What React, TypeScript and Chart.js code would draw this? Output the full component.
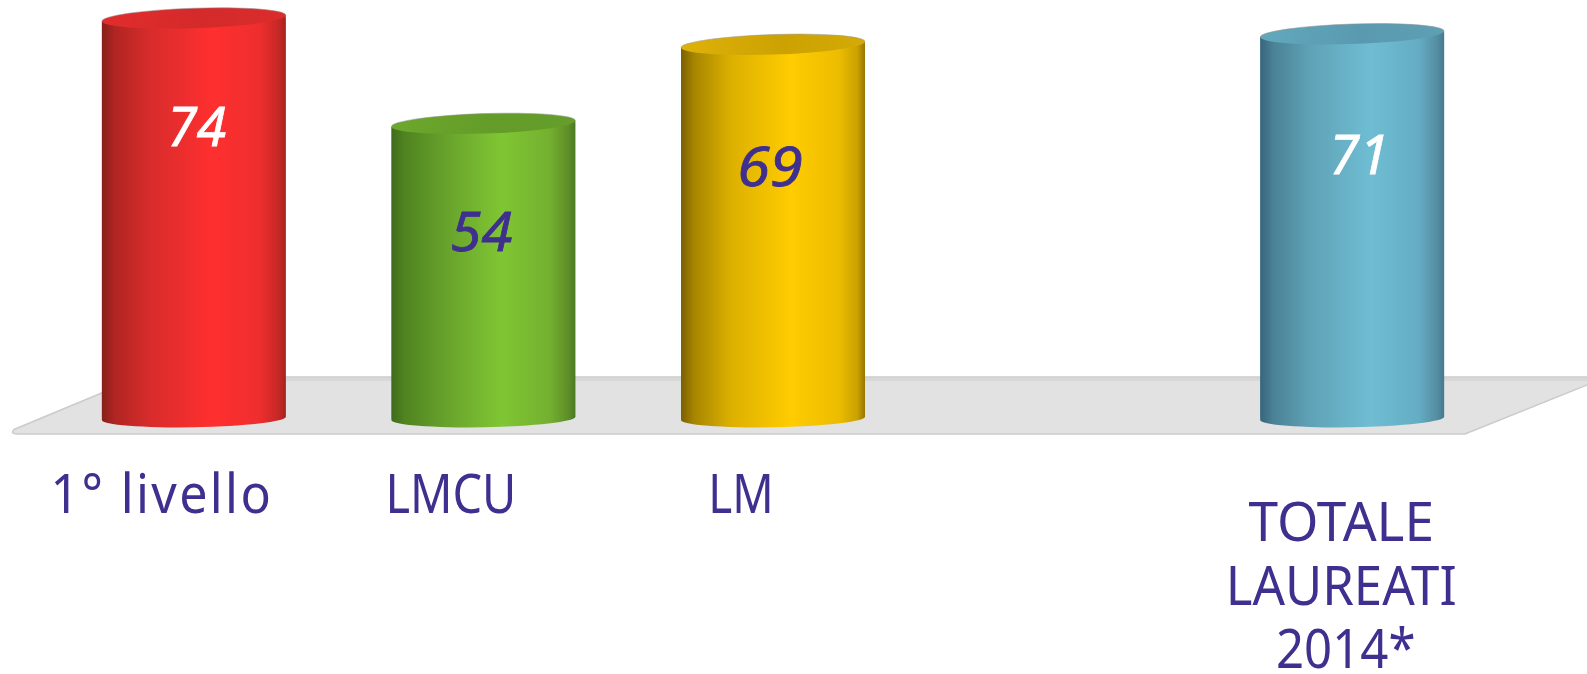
import React, { useEffect, useRef } from "react";
import { Chart, registerables } from "chart.js";

Chart.register(...registerables);

const categories: string[][] = [["1° livello"], ["LMCU"], ["LM"], [""], ["TOTALE", "LAUREATI", "2014*"]];
const values: (number | null)[] = [74, 54, 69, null, 71];
const valueColors = ["#ffffff", "#3f2f8f", "#3f2f8f", "#ffffff", "#ffffff"];
const sideStops = [
  ["#861f1a", "#b02522", "#d92c2c", "#ff2f2f", "#ee2e2e", "#c62826", "#a5241f"],
  ["#3f6b1c", "#4f8320", "#659f2b", "#80c633", "#74b030", "#5e8f28", "#4a7a20"],
  ["#7a6000", "#a68500", "#dcb000", "#ffcc00", "#ecbc00", "#c9a100", "#957500"],
  ["#ffffff", "#ffffff", "#ffffff", "#ffffff", "#ffffff", "#ffffff", "#ffffff"],
  ["#37667c", "#4a8195", "#5fa2b6", "#6fbdd3", "#65adc4", "#558ea3", "#467a8e"],
];
const capStops = [
  ["#e22c2c", "#d42a2a", "#dc2c2c"],
  ["#6da82c", "#639c28", "#659e2a"],
  ["#dfb208", "#cca203", "#d4aa06"],
  ["#ffffff", "#ffffff", "#ffffff"],
  ["#62a8bc", "#5a9ab0", "#5e9fb4"],
];
const stopAt = [0, 0.07, 0.27, 0.6, 0.86, 0.96, 1];

const INK = "#3f2f8f";
const FONT = '"Noto Sans", sans-serif';
const LABEL_PX = 54;
// label layout relative to each category centre
const labelDx = [[-32], [-32.5], [-32], [0], [-11, -11, -6.5]];
const labelSqueeze = [[0.93], [0.868], [0.847], [1], [0.984, 0.943, 0.91]];
const labelSpacing = [2.5, 0, 0, 0, 0];
const labelBaselines = [[94.7], [94.7], [94.7], [0], [122.7, 186.7, 249.7]];
const valueDx = [3, -2, -3, 0, 7];
const valueSqueeze = [0.985, 1.035, 1.1, 1, 1];
const valueBaselines = [145.7, 251, 186, 0, 174];
const TILT_TOP = -0.033;
const TILT_BASE = -0.018;
const RY_TOP = 10;
const RY_BASE = 9;

function squeezedText(ctx: CanvasRenderingContext2D, text: string, cx: number, y: number, sx: number, stroke = 0) {
  ctx.save();
  ctx.translate(cx, y);
  ctx.scale(sx, 1);
  ctx.fillText(text, 0, 0);
  if (stroke) {
    ctx.lineWidth = stroke;
    ctx.strokeStyle = ctx.fillStyle as string;
    ctx.strokeText(text, 0, 0);
  }
  ctx.restore();
}

function sideGradient(ctx: CanvasRenderingContext2D, x0: number, x1: number, stops: string[]) {
  const g = ctx.createLinearGradient(x0, 0, x1, 0);
  stops.forEach((c, k) => g.addColorStop(stopAt[k], c));
  return g;
}

function bodyPath(ctx: CanvasRenderingContext2D, el: any) {
  const hw = el.width / 2;
  const dT = hw * Math.sin(-TILT_TOP);
  const dB = hw * Math.sin(-TILT_BASE);
  ctx.moveTo(el.x - hw, el.y + dT);
  ctx.lineTo(el.x + hw, el.y - dT);
  ctx.lineTo(el.x + hw, el.base - dB);
  ctx.lineTo(el.x - hw, el.base + dB);
  ctx.closePath();
}

const cylinderPlugin = {
  id: "cylinders",
  beforeDatasetsDraw(chart: any) {
    const { ctx, chartArea } = chart;
    const base = chartArea.bottom;
    const backY = base - 41.3;
    const frontY = base + 15.7;
    const left = chartArea.left;
    ctx.save();
    ctx.beginPath();
    ctx.moveTo(left - 32, frontY);
    ctx.lineTo(left + 1416, frontY);
    ctx.lineTo(left + 1560, frontY - 57.8);
    ctx.lineTo(left + 1560, backY);
    ctx.lineTo(left + 91, backY);
    ctx.lineTo(left - 35, frontY - 4.5);
    ctx.quadraticCurveTo(left - 39, frontY, left - 32, frontY);
    ctx.closePath();
    ctx.fillStyle = "#e2e2e2";
    ctx.fill();
    ctx.strokeStyle = "#cbcbcb";
    ctx.lineWidth = 1.5;
    ctx.stroke();
    ctx.fillStyle = "#d8d8d8";
    ctx.fillRect(left + 91, backY + 1, 1469, 3);
    ctx.restore();
    // lower rims of the cylinders, under the bar bodies
    const meta = chart.getDatasetMeta(0);
    meta.data.forEach((el: any, i: number) => {
      if (values[i] == null) return;
      const hw = el.width / 2;
      ctx.save();
      ctx.fillStyle = sideGradient(ctx, el.x - hw, el.x + hw, sideStops[i]);
      ctx.beginPath();
      ctx.ellipse(el.x, el.base, hw, RY_BASE, TILT_BASE, 0, Math.PI * 2);
      ctx.fill();
      ctx.restore();
    });
  },
  beforeDatasetDraw(chart: any) {
    const { ctx } = chart;
    const meta = chart.getDatasetMeta(0);
    ctx.save();
    ctx.beginPath();
    meta.data.forEach((el: any, i: number) => {
      if (values[i] != null) bodyPath(ctx, el);
    });
    ctx.clip();
  },
  afterDatasetDraw(chart: any) {
    chart.ctx.restore();
  },
  afterDatasetsDraw(chart: any) {
    const { ctx, scales } = chart;
    const meta = chart.getDatasetMeta(0);
    meta.data.forEach((el: any, i: number) => {
      if (values[i] == null) return;
      const hw = el.width / 2;
      ctx.save();
      // body corners that the tilted rim leaves open
      ctx.fillStyle = sideGradient(ctx, el.x - hw, el.x + hw, sideStops[i]);
      ctx.beginPath();
      bodyPath(ctx, el);
      ctx.fill();
      // top rim
      const cap = ctx.createLinearGradient(el.x - hw, 0, el.x + hw, 0);
      cap.addColorStop(0, capStops[i][0]);
      cap.addColorStop(0.55, capStops[i][1]);
      cap.addColorStop(1, capStops[i][2]);
      ctx.fillStyle = cap;
      ctx.beginPath();
      ctx.ellipse(el.x, el.y, hw, RY_TOP, TILT_TOP, 0, Math.PI * 2);
      ctx.fill();
      // thin silver edge along the far side of the rim
      ctx.strokeStyle = "rgba(150,150,150,0.55)";
      ctx.lineWidth = 1;
      ctx.beginPath();
      ctx.ellipse(el.x, el.y, hw, RY_TOP, TILT_TOP, Math.PI, Math.PI * 2);
      ctx.stroke();
      ctx.restore();
      ctx.save();
      ctx.font = `italic 54px ${FONT}`;
      ctx.textAlign = "center";
      ctx.textBaseline = "alphabetic";
      ctx.fillStyle = valueColors[i];
      squeezedText(ctx, String(values[i]), el.x + valueDx[i], valueBaselines[i], valueSqueeze[i], 0.8);
      ctx.restore();
    });
    categories.forEach((lines, i) => {
      const cx = scales.x.getPixelForValue(i);
      ctx.save();
      ctx.font = `${LABEL_PX}px ${FONT}`;
      ctx.textAlign = "center";
      ctx.textBaseline = "alphabetic";
      ctx.fillStyle = INK;
      (ctx as any).letterSpacing = `${labelSpacing[i]}px`;
      lines.forEach((line, k) => {
        squeezedText(ctx, line, cx + labelDx[i][k], chart.chartArea.bottom + labelBaselines[i][k], labelSqueeze[i][k]);
      });
      ctx.restore();
    });
  },
};

export default function App() {
  const ref = useRef<HTMLCanvasElement>(null);
  useEffect(() => {
    const chart = new Chart(ref.current!, {
      type: "bar",
      data: {
        labels: categories.map((c) => c.join(" ")),
        datasets: [
          {
            data: values,
            base: -1.92,
            barPercentage: 0.635,
            categoryPercentage: 1,
            borderWidth: 0,
            backgroundColor: (c: any) => {
              const x = c.chart.scales?.x;
              if (!x || !c.chart.chartArea || c.dataIndex == null) return "#999";
              const centre = x.getPixelForValue(c.dataIndex);
              const hw = (x.width / categories.length) * 0.635 * 0.5;
              return sideGradient(c.chart.ctx, centre - hw, centre + hw, sideStops[c.dataIndex]);
            },
          },
        ],
      },
      options: {
        animation: false,
        responsive: false,
        layout: { padding: { left: 49, right: 90, top: 2.4, bottom: 255.7 } },
        plugins: { legend: { display: false }, tooltip: { enabled: false } },
        scales: {
          x: { display: false },
          y: { display: false, min: -1.92, max: 77 },
        },
      },
      plugins: [cylinderPlugin],
    } as any);
    return () => chart.destroy();
  }, []);
  return (
    <div style={{ position: "absolute", left: 0, top: 0, width: 1587, height: 674, background: "#fff" }}>
      <canvas ref={ref} width={1587} height={674} style={{ display: "block" }} />
    </div>
  );
}
